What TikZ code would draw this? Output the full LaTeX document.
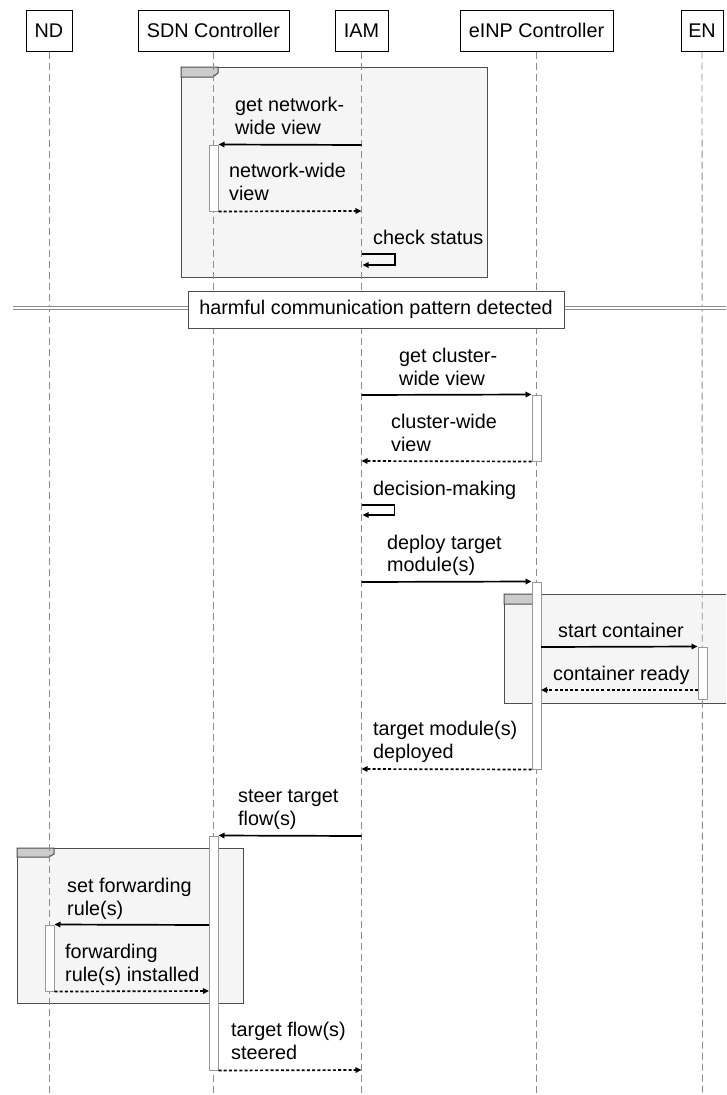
\documentclass[tikz,border=0pt]{standalone}
\usepackage{fontspec}
\setmainfont{Liberation Sans}
\usetikzlibrary{arrows.meta}
\definecolor{framefill}{HTML}{F5F5F5}
\definecolor{framedraw}{HTML}{4D4D4D}
\definecolor{tabfill}{HTML}{CCCCCC}
\definecolor{lifegray}{HTML}{8C8C8C}
\definecolor{actdraw}{HTML}{999999}
\begin{document}
\begin{tikzpicture}[x=1pt,y=-1pt,
  txt/.style={font=\fontsize{19.8}{22.5}\selectfont},
  head/.style={txt, draw=black, line width=1pt, fill=white, minimum height=41pt, inner sep=0pt},
  lifeline/.style={draw=lifegray, line width=0.9pt, dash pattern=on 7pt off 4pt},
  frame/.style={draw=framedraw, line width=1pt, fill=framefill},
  tab/.style={draw=framedraw, line width=1pt, fill=tabfill},
  act/.style={draw=actdraw, fill=white, line width=1pt, minimum width=9pt, inner sep=0pt},
  msg/.style={line width=1.7pt, -{Triangle[length=6pt,width=5.5pt]}},
  ret/.style={msg, dash pattern=on 3pt off 2.2pt},
  lbl/.style={txt, anchor=base west, inner sep=0pt},
]
\useasboundingbox (0,0) rectangle (726,1095);
\clip (0,0) rectangle (726,1095);

% combined fragments
\path[frame] (181,67) rectangle (487,277);
\path[tab] (181,67) -- (218,67) -- (218,73) -- (213,77) -- (181,77) -- cycle;
\path[frame] (504,594) rectangle (732,703);
\path[tab] (504,594) -- (541,594) -- (541,600) -- (536,604) -- (504,604) -- cycle;
\path[frame] (17,848) rectangle (243,1003);
\path[tab] (17,848) -- (54,848) -- (54,854) -- (49,857) -- (17,857) -- cycle;

% participants
\node[head, minimum width=46pt]  (nd)   at (49,30.5)    {ND};
\node[head, minimum width=151pt] (sdn)  at (213.5,30.5) {SDN Controller};
\node[head, minimum width=53pt]  (iam)  at (361.5,30.5) {IAM};
\node[head, minimum width=153pt] (einp) at (536.5,30.5) {eINP Controller};
\node[head, minimum width=42pt]  (en)   at (702,30.5)   {EN};

% lifelines
\coordinate (ndEnd) at (49,1095);
\coordinate (sdnEnd) at (213.5,1095);
\coordinate (iamEnd) at (361.5,1095);
\coordinate (einpEnd) at (536.5,1095);
\coordinate (enEnd) at (702.5,1095);
\draw[lifeline] (nd.south) -- (ndEnd);
\draw[lifeline] (sdn.south) -- (sdnEnd);
\draw[lifeline] (iam.south) -- (iamEnd);
\draw[lifeline] (einp.south) -- (einpEnd);
\draw[lifeline] (en.south) -- (enEnd);

% separator
\coordinate (sepL) at (13,308);
\coordinate (sepR) at (730,308);
\draw[draw=lifegray, line width=0.8pt, double=white, double distance=2.4pt] (sepL) -- (sepR);
\node[txt, draw=framedraw, line width=1pt, fill=white, minimum width=376pt, minimum height=37pt, inner sep=0pt] (sep) at (376,309.5) {harmful communication pattern detected};

% activations
\node[act, minimum height=66pt]  (a1) at (213.5,178)  {};
\node[act, minimum height=66pt]  (a2) at (536.5,428)  {};
\node[act, minimum height=187pt] (a3) at (536.5,675.5) {};
\node[act, minimum height=52pt]  (a4) at (702.5,673)  {};
\node[act, minimum height=234pt] (a5) at (213.5,953)  {};
\node[act, minimum height=66pt]  (a6) at (49.5,958)   {};

% message end points on lifelines
\coordinate (iam1) at (361.5,145);
\coordinate (iam2) at (361.5,211);
\coordinate (iam3) at (361.5,254);
\coordinate (iam3e) at (362.5,265);
\coordinate (iam4) at (361.5,395);
\coordinate (iam5) at (361.5,461);
\coordinate (iam6) at (361.5,505);
\coordinate (iam6e) at (362.5,515);
\coordinate (iam7) at (361.5,582);
\coordinate (einp1) at (541,647);
\coordinate (en1) at (698,690);
\coordinate (einp2) at (541,690);
\coordinate (iam8) at (361.5,769);
\coordinate (iam9) at (361.5,836);
\coordinate (sdn1) at (209,925);
\coordinate (sdn2) at (209,991);
\coordinate (iam10) at (361.5,1070);

% messages
\draw[msg] (iam1) -- (a1.north east);
\draw[ret] (a1.south east) -- (iam2);
\draw[msg] (iam3) -- ++(33.5,0) |- (iam3e);
\draw[msg] (iam4) -- (a2.north west);
\draw[ret] (a2.south west) -- (iam5);
\draw[msg] (iam6) -- ++(33,0) |- (iam6e);
\draw[msg] (iam7) -- (a3.north west);
\draw[msg] (einp1) -- (a4.north west);
\draw[ret] (en1) -- (einp2);
\draw[ret] (a3.south west) -- (iam8);
\draw[msg] (iam9) -- (a5.north east);
\draw[msg] (sdn1) -- (a6.north east);
\draw[ret] (a6.south east) -- (sdn2);
\draw[ret] (a5.south east) -- (iam10);

% message labels
\node[lbl] (l1a) at (235,111.5) {get network-};
\node[lbl] (l1b) at (235,134) {wide view};
\node[lbl] (l2a) at (229,177.5) {network-wide};
\node[lbl] (l2b) at (229,200) {view};
\node[lbl] (l3) at (373,244) {check status};
\node[lbl] (l4a) at (399,362.5) {get cluster-};
\node[lbl] (l4b) at (399,385) {wide view};
\node[lbl] (l5a) at (391,428.5) {cluster-wide};
\node[lbl] (l5b) at (391,451) {view};
\node[lbl] (l6) at (373,495) {decision-making};
\node[lbl] (l7a) at (387,549) {deploy target};
\node[lbl] (l7b) at (387,571.5) {module(s)};
\node[lbl] (l8) at (558,637) {start container};
\node[lbl] (l9) at (553,680) {container ready};
\node[lbl] (l10a) at (373,735.5) {target module(s)};
\node[lbl] (l10b) at (373,758) {deployed};
\node[lbl] (l11a) at (238,802.5) {steer target};
\node[lbl] (l11b) at (238,825) {flow(s)};
\node[lbl] (l12a) at (67,892.5) {set forwarding};
\node[lbl] (l12b) at (67,915) {rule(s)};
\node[lbl] (l13a) at (65,958.5) {forwarding};
\node[lbl] (l13b) at (65,981) {rule(s) installed};
\node[lbl] (l14a) at (231,1036.5) {target flow(s)};
\node[lbl] (l14b) at (231,1059) {steered};
\end{tikzpicture}
\end{document}
